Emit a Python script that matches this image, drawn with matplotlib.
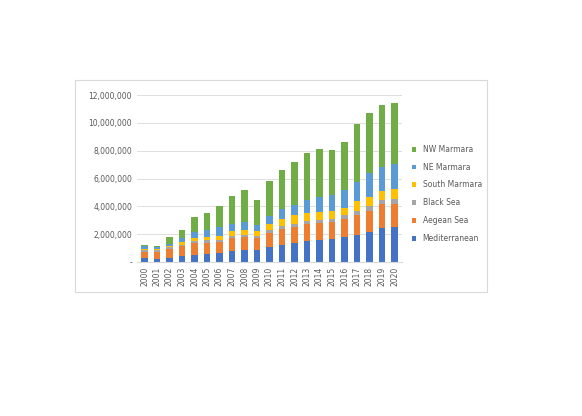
import numpy as np
import matplotlib.pyplot as plt
from matplotlib.patches import Rectangle

years = [str(y) for y in range(2000, 2021)]
series = ["Mediterranean", "Aegean Sea", "Black Sea", "South Marmara", "NE Marmara", "NW Marmara"]
colors = ["#4472c4", "#ed7d31", "#a5a5a5", "#ffc000", "#5b9bd5", "#70ad47"]
# cumulative tops, millions
cum = np.array([
    [0.30, 0.75, 0.85, 0.90, 1.15, 1.20],
    [0.25, 0.75, 0.85, 0.90, 1.10, 1.15],
    [0.30, 0.95, 1.05, 1.15, 1.30, 1.80],
    [0.45, 1.15, 1.25, 1.45, 1.70, 2.30],
    [0.50, 1.35, 1.50, 1.70, 2.15, 3.25],
    [0.60, 1.40, 1.55, 1.80, 2.30, 3.50],
    [0.65, 1.45, 1.60, 1.90, 2.55, 4.00],
    [0.80, 1.75, 1.90, 2.20, 2.75, 4.75],
    [0.85, 1.80, 1.95, 2.30, 2.90, 5.20],
    [0.85, 1.75, 1.90, 2.20, 2.65, 4.45],
    [1.10, 2.10, 2.30, 2.70, 3.30, 5.85],
    [1.25, 2.35, 2.60, 3.10, 3.80, 6.60],
    [1.40, 2.50, 2.75, 3.35, 4.10, 7.20],
    [1.50, 2.70, 2.95, 3.50, 4.45, 7.80],
    [1.60, 2.80, 3.05, 3.60, 4.70, 8.15],
    [1.65, 2.90, 3.10, 3.70, 4.80, 8.05],
    [1.80, 3.10, 3.35, 3.90, 5.20, 8.65],
    [1.95, 3.40, 3.70, 4.35, 5.75, 9.90],
    [2.15, 3.70, 4.00, 4.70, 6.40, 10.70],
    [2.45, 4.15, 4.45, 5.10, 6.85, 11.30],
    [2.55, 4.20, 4.50, 5.25, 7.05, 11.40],
]) * 1e6
vals = np.diff(np.hstack([np.zeros((len(years), 1)), cum]), axis=1)

fig = plt.figure(figsize=(5.82, 4.16), dpi=100)
fig.patches.append(Rectangle((75 / 582, 1 - 292 / 416), 412 / 582, 212 / 416,
                             transform=fig.transFigure, fill=False, edgecolor="#d9d9d9", lw=0.8))
ax = fig.add_axes([137 / 582, 1 - 262 / 416, 265 / 582, 167 / 416])
x = np.arange(len(years))
bottom = np.zeros(len(years))
for i, name in enumerate(series):
    ax.bar(x, vals[:, i], 0.5, bottom=bottom, color=colors[i], label=name)
    bottom += vals[:, i]
ax.set_ylim(0, 12e6)
ax.set_xlim(-0.6, len(years) - 0.4)
ax.set_yticks(np.arange(0, 12.1e6, 2e6))
ax.set_yticklabels(["-"] + [f"{int(v):,}" for v in np.arange(2e6, 12.1e6, 2e6)], fontsize=5.5, color="#595959")
ax.set_xticks(x)
ax.set_xticklabels(years, rotation=90, fontsize=5.5, color="#595959")
ax.grid(axis="y", color="#d9d9d9", lw=0.6)
ax.set_axisbelow(True)
for s in ["top", "right", "left"]:
    ax.spines[s].set_visible(False)
ax.spines["bottom"].set_color("#d9d9d9")
ax.tick_params(length=0)
h, l = ax.get_legend_handles_labels()
fig.legend(h[::-1], l[::-1], loc="upper left", bbox_to_anchor=(405 / 582, 1 - 138 / 416),
           frameon=False, fontsize=5.5, labelspacing=1.15, handlelength=0.6, handleheight=0.6,
           labelcolor="#595959")
fig.savefig("out.png", dpi=100, facecolor="white")
